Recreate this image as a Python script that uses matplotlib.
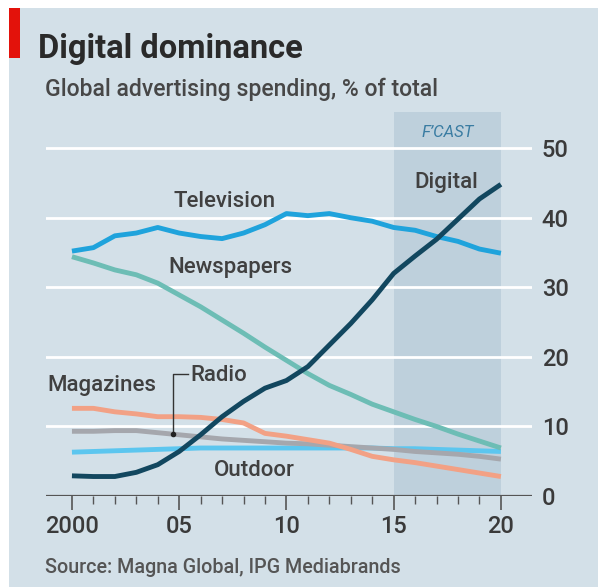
import numpy as np
import matplotlib
matplotlib.use("Agg")
import matplotlib.pyplot as plt
from matplotlib.patches import Rectangle

plt.rcParams['font.family'] = ['Roboto', 'DejaVu Sans']

# Share of global ad spending, %
years = list(range(2000, 2021))
television = [35.2, 35.7, 37.4, 37.8, 38.6, 37.8, 37.3, 37.0, 37.8, 39.0, 40.6,
              40.3, 40.6, 40.0, 39.5, 38.6, 38.2, 37.3, 36.6, 35.5, 34.9]
newspapers = [34.4, 33.5, 32.5, 31.8, 30.6, 28.9, 27.2, 25.3, 23.4, 21.4, 19.5,
              17.6, 15.9, 14.6, 13.2, 12.1, 11.0, 10.0, 8.9, 7.9, 6.9]
digital = [2.9, 2.8, 2.8, 3.4, 4.5, 6.4, 8.8, 11.4, 13.6, 15.5, 16.6,
           18.6, 21.7, 24.8, 28.2, 32.0, 34.5, 36.9, 39.8, 42.7, 44.8]
magazines = [12.6, 12.6, 12.1, 11.8, 11.4, 11.4, 11.3, 11.0, 10.5, 9.0, 8.6,
             8.1, 7.6, 6.7, 5.7, 5.2, 4.8, 4.3, 3.8, 3.3, 2.8]
radio = [9.3, 9.3, 9.4, 9.4, 9.1, 8.8, 8.5, 8.2, 8.0, 7.8, 7.6,
         7.5, 7.3, 7.1, 6.9, 6.7, 6.4, 6.2, 6.0, 5.7, 5.3]
outdoor = [6.3, 6.4, 6.5, 6.6, 6.7, 6.8, 6.9, 6.9, 6.9, 6.9, 6.9,
           6.9, 6.9, 6.9, 6.9, 6.8, 6.8, 6.7, 6.6, 6.5, 6.4]

yticks = [0, 10, 20, 30, 40, 50]
xticks = [2000, 2005, 2010, 2015, 2020]
xticklabels = ['2000', '05', '10', '15', '20']
forecast_start = 2015

bg = '#d3e0e8'
text_col = '#3a3a3a'

fig = plt.figure(figsize=(5.98, 5.87), dpi=100)
fig.patch.set_facecolor('white')
# panel background with white margin at top/left
fig.patches.append(Rectangle((9 / 598, 0), 1, 1 - 8 / 587, transform=fig.transFigure,
                             facecolor=bg, edgecolor='none', zorder=-10))
fig.patches.append(Rectangle((9 / 598, 1 - 58 / 587), 11 / 598, 50 / 587,
                             transform=fig.transFigure, facecolor='#e3120b',
                             edgecolor='none', zorder=-9))

ax = fig.add_axes([46 / 598, 91 / 587, 486 / 598, 384 / 587])
ax.set_facecolor('none')
ax.set_xlim(1998.79, 2021.45)
ax.set_ylim(0, 55.2)

ax.axvspan(forecast_start, 2020, color='#bed0dc', zorder=0, lw=0)
for v in yticks[1:]:
    ax.axhline(v, color='white', lw=2, zorder=1)
ax.axhline(0, color='#555555', lw=1.6, zorder=5)

lw = 3.5
ax.plot(years, outdoor, color='#5cc6ef', lw=lw, zorder=3, solid_capstyle='butt')
ax.plot(years, radio, color='#a5a7ad', lw=lw, zorder=3, solid_capstyle='butt')
ax.plot(years, magazines, color='#f2a185', lw=lw, zorder=3, solid_capstyle='butt')
ax.plot(years, newspapers, color='#6dbdb5', lw=lw, zorder=3, solid_capstyle='butt')
ax.plot(years, television, color='#1fa3dc', lw=lw, zorder=3, solid_capstyle='butt')
ax.plot(years, digital, color='#12475f', lw=lw, zorder=4, solid_capstyle='butt')

for s in ax.spines.values():
    s.set_visible(False)

ax.yaxis.tick_right()
ax.set_yticks(yticks)
ax.set_yticklabels([str(v) for v in yticks])
ax.tick_params(axis='y', length=0, pad=7, labelsize=17, labelcolor=text_col)

ax.set_xticks(xticks)
ax.set_xticklabels(xticklabels)
ax.set_xticks(years, minor=True)
ax.tick_params(axis='x', which='major', length=10, width=1.2, color='#555555',
               labelsize=17, labelcolor=text_col, pad=4)
ax.tick_params(axis='x', which='minor', length=6, width=1.0, color='#555555')
for t in ax.get_xticklabels() + ax.get_yticklabels():
    t.set_fontweight('medium')

lab = dict(fontsize=16, color='#404040', fontweight='medium')
ax.text(2007.1, 42.4, 'Television', ha='center', va='center', **lab)
ax.text(2007.4, 32.8, 'Newspapers', ha='center', va='center', **lab)
ax.text(2018.95, 45.1, 'Digital', ha='right', va='center', **lab)
ax.text(1998.85, 15.9, 'Magazines', ha='left', va='center', **lab)
ax.text(2005.5, 17.3, 'Radio', ha='left', va='center', **lab)
ax.text(2008.5, 3.7, 'Outdoor', ha='center', va='center', **lab)
ax.text(2017.5, 52.3, "F\u2019CAST", ha='center', va='center', fontsize=12,
        style='italic', color='#3a7ca2')

# pointer from Radio label down to its line
ax.plot([2005.4, 2004.7, 2004.7], [17.5, 17.5, 8.9], color='#333333', lw=1, zorder=6)
ax.plot([2004.7], [8.9], 'o', color='#222222', ms=3, zorder=6)

fig.text(38 / 598, 1 - 58 / 587, 'Digital dominance', fontsize=23.5, fontweight='bold',
         color='#2a2a2a', ha='left', va='baseline')
fig.text(45 / 598, 1 - 96 / 587, 'Global advertising spending, % of total',
         fontsize=16.6, color='#474747', fontweight='medium', ha='left', va='baseline')
fig.text(45 / 598, 1 - 573 / 587, 'Source: Magna Global, IPG Mediabrands',
         fontsize=14.2, color='#555555', fontweight='medium', ha='left', va='baseline')

fig.savefig('out.png', dpi=100, facecolor=fig.get_facecolor())
